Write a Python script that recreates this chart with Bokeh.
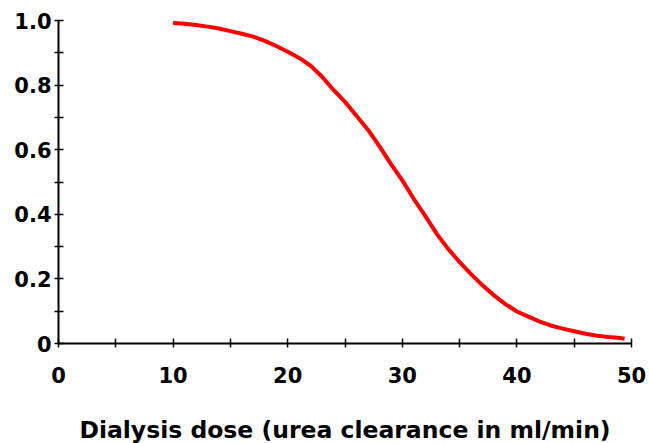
from bokeh.plotting import figure
from bokeh.models import Range1d, FixedTicker
from bokeh.embed import file_html
from bokeh.resources import INLINE

# Data
dose = [10, 11, 12, 13, 14, 15, 16, 17, 18, 19, 20, 21, 22, 23, 24, 25, 26, 27, 28, 29,
        30, 31, 32, 33, 34, 35, 36, 37, 38, 39, 40, 41, 42, 43, 44, 45, 46, 47, 48, 49, 49.4]
prob = [0.992, 0.990, 0.986, 0.981, 0.975, 0.967, 0.959, 0.950, 0.937, 0.921, 0.903,
        0.884, 0.860, 0.826, 0.785, 0.748, 0.705, 0.662, 0.611, 0.556, 0.505, 0.448,
        0.395, 0.340, 0.293, 0.252, 0.215, 0.180, 0.149, 0.122, 0.099, 0.083, 0.068,
        0.055, 0.046, 0.038, 0.030, 0.024, 0.020, 0.017, 0.015]

x_major = [0, 10, 20, 30, 40, 50]
x_minor = [5, 15, 25, 35, 45]
y_major = [0, 0.2, 0.4, 0.6, 0.8, 1.0]
y_minor = [0.1, 0.3, 0.5, 0.7, 0.9]
y_labels = ["0", "0.2", "0.4", "0.6", "0.8", "1.0"]
x_title = "Dialysis dose (urea clearance in ml/min)"

FONT = "DejaVu Sans"

p = figure(width=647, height=443, output_backend="svg", toolbar_location=None,
           x_range=Range1d(0, 50), y_range=Range1d(0, 1),
           min_border_left=58, min_border_top=20, min_border_right=16, min_border_bottom=10,
           frame_width=573, frame_height=323)
p.outline_line_color = None
p.grid.visible = False
p.background_fill_color = "white"
p.border_fill_color = "white"

p.line(dose, prob, line_color="#ff0000", line_width=4)

for ax, maj, mnr in ((p.xaxis[0], x_major, x_minor), (p.yaxis[0], y_major, y_minor)):
    ax.ticker = FixedTicker(ticks=maj, minor_ticks=mnr)
    ax.axis_line_color = "black"
    ax.axis_line_width = 2
    ax.major_tick_line_color = "black"
    ax.minor_tick_line_color = "black"
    ax.major_tick_line_width = 1.5
    ax.minor_tick_line_width = 1.5
    ax.major_tick_in = 5
    ax.major_tick_out = 4
    ax.minor_tick_in = 5
    ax.minor_tick_out = 4
    ax.major_label_text_font = FONT
    ax.major_label_text_font_style = "bold"
    ax.major_label_text_font_size = "21px"
    ax.major_label_text_color = "black"

p.yaxis[0].major_label_overrides = {v: s for v, s in zip(y_major, y_labels)}
p.yaxis[0].major_label_standoff = 3
p.xaxis[0].major_label_standoff = 19

p.xaxis[0].axis_label = x_title
p.xaxis[0].axis_label_text_font = FONT
p.xaxis[0].axis_label_text_font_style = "bold"
p.xaxis[0].axis_label_text_font_size = "23.5px"
p.xaxis[0].axis_label_text_color = "black"
p.xaxis[0].axis_label_standoff = 30

open("out.html", "w").write(file_html(p, INLINE))
